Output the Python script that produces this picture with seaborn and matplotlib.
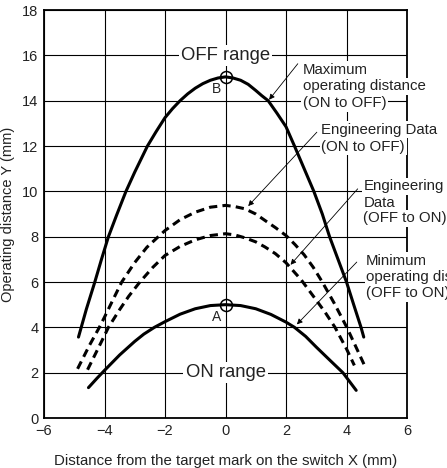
import matplotlib
matplotlib.use('Agg')
import matplotlib.pyplot as plt
import seaborn as sns

# curves (X mm, Y mm)
max_x = [-4.86, -4.6, -4.32, -4.1, -3.87, -3.6, -3.29, -3.0, -2.58, -2.3, -2.0, -1.75, -1.5, -1.25, -1.0, -0.75, -0.5, -0.25,
         0.0, 0.25, 0.5, 0.75, 1.0, 1.2, 1.41, 1.7, 2.0, 2.28, 2.6, 2.92, 3.2, 3.44, 3.72, 4.0, 4.25, 4.48, 4.57]
max_y = [3.57, 4.8, 6.0, 7.0, 8.0, 8.95, 10.0, 10.85, 12.0, 12.62, 13.25, 13.65, 14.0, 14.3, 14.55, 14.75, 14.9, 15.0,
         15.05, 15.0, 14.9, 14.72, 14.45, 14.22, 14.0, 13.45, 12.85, 12.0, 11.0, 10.0, 9.0, 8.0, 7.0, 6.0, 4.95, 4.0, 3.57]

eng_on_off_x = [-4.89, -4.5, -4.17, -4.0, -3.7, -3.43, -3.0, -2.6, -2.22, -2.0, -1.5, -1.0, -0.5,
                0.0, 0.3, 0.64, 1.0, 1.3, 1.65, 2.0, 2.3, 2.6, 2.9, 3.2, 3.6, 4.01, 4.3, 4.63]
eng_on_off_y = [2.17, 3.2, 4.0, 4.45, 5.27, 6.0, 6.86, 7.53, 8.0, 8.27, 8.75, 9.08, 9.3,
                9.38, 9.33, 9.23, 9.0, 8.72, 8.4, 8.05, 7.65, 7.2, 6.65, 6.0, 5.05, 4.0, 3.17, 2.22]

eng_off_on_x = [-4.56, -4.3, -4.0, -3.87, -3.5, -3.2, -2.83, -2.4, -2.0, -1.5, -1.0, -0.5,
                0.0, 0.3, 0.64, 1.0, 1.3, 1.65, 2.0, 2.5, 3.0, 3.3, 3.62, 4.0, 4.26]
eng_off_on_y = [2.13, 2.83, 3.64, 4.0, 4.78, 5.37, 6.0, 6.65, 7.17, 7.57, 7.86, 8.05,
                8.13, 8.08, 7.95, 7.77, 7.55, 7.25, 6.85, 6.1, 5.2, 4.65, 4.0, 3.05, 2.32]

min_x = [-4.53, -4.25, -4.0, -3.5, -3.0, -2.7, -2.35, -2.0, -1.5, -1.0, -0.5,
         0.0, 0.5, 1.0, 1.5, 2.0, 2.28, 2.65, 3.0, 3.45, 3.88, 4.1, 4.32]
min_y = [1.34, 1.75, 2.1, 2.78, 3.38, 3.7, 4.0, 4.25, 4.58, 4.82, 4.96,
         5.0, 4.96, 4.82, 4.57, 4.23, 4.0, 3.6, 3.13, 2.55, 2.0, 1.61, 1.22]

point_labels = ['B', 'A']
point_x = [0.0, 0.0]
point_y = [15.05, 5.0]

ticks_x = [-6, -4, -2, 0, 2, 4, 6]
ticks_y = [0, 2, 4, 6, 8, 10, 12, 14, 16, 18]

sns.set_theme(style='white')
plt.rcParams['font.family'] = ['Liberation Sans', 'DejaVu Sans']

fig, ax = plt.subplots(figsize=(4.47, 4.68), dpi=100)
fig.subplots_adjust(left=44/447, right=407/447, top=1-10/468, bottom=1-418/468)

solid = dict(color='black', lw=2.2, sort=False, estimator=None)
sns.lineplot(x=max_x, y=max_y, ax=ax, **solid)
sns.lineplot(x=min_x, y=min_y, ax=ax, **solid)
sns.lineplot(x=eng_on_off_x, y=eng_on_off_y, ax=ax, **solid)
sns.lineplot(x=eng_off_on_x, y=eng_off_on_y, ax=ax, **solid)
for line in ax.lines[2:4]:
    line.set_dashes((2.7, 1.7))
    line.set_dash_capstyle('butt')

ax.plot(point_x, point_y, 'o', ms=8.6, mfc='none', mec='black', mew=1.1, zorder=4)
for lab, px, py in zip(point_labels, point_x, point_y):
    ax.text(px - 0.3, py - 0.55, lab, ha='center', va='center', fontsize=10, color='#222')

ax.set_xlim(-6, 6)
ax.set_ylim(0, 18)
ax.set_xticks(ticks_x)
ax.set_yticks(ticks_y)
ax.grid(True, color='black', lw=0.8)
ax.tick_params(length=0, labelsize=10.5, pad=4, colors='#222')
for s in ax.spines.values():
    s.set_color('black')
    s.set_linewidth(1.3)

ax.set_xlabel('Distance from the target mark on the switch X (mm)', fontsize=10.8, labelpad=12, color='#222')
ax.set_ylabel('Operating distance Y (mm)', fontsize=10.5, labelpad=5, color='#222')

box = dict(facecolor='white', edgecolor='none', pad=1.5)
ax.text(0, 16, 'OFF range', ha='center', va='center', fontsize=13.3, bbox=box, zorder=5, color='#222')
ax.text(0, 2, 'ON range', ha='center', va='center', fontsize=13.3, bbox=box, zorder=5, color='#222')

notes = [
    (2.55, [15.19, 14.45, 13.71], ['Maximum', 'operating distance', '(ON to OFF)'], (2.39, 15.63), (1.44, 14.04)),
    (3.17, [12.54, 11.8], ['Engineering Data', '(ON to OFF)'], (3.02, 12.61), (0.75, 9.35)),
    (4.56, [10.04, 9.33, 8.64], ['Engineering', 'Data', '(OFF to ON)'], (4.37, 10.11), (2.15, 6.76)),
    (4.65, [6.76, 6.04, 5.33], ['Minimum', 'operating distance', '(OFF to ON)'], (4.34, 6.88), (2.36, 4.13)),
]
for tx, tys, lines, start, tip in notes:
    for ty, txt in zip(tys, lines):
        ax.text(tx, ty, txt, ha='left', va='baseline', fontsize=10.8, color='#222',
                bbox=dict(facecolor='white', edgecolor='none', pad=1.2), zorder=6, clip_on=False)
    ax.annotate('', xy=tip, xytext=start,
                arrowprops=dict(arrowstyle='-|>', lw=0.6, color='black', mutation_scale=8,
                                shrinkA=0, shrinkB=0), zorder=6)

fig.savefig('out.png', dpi=100)
